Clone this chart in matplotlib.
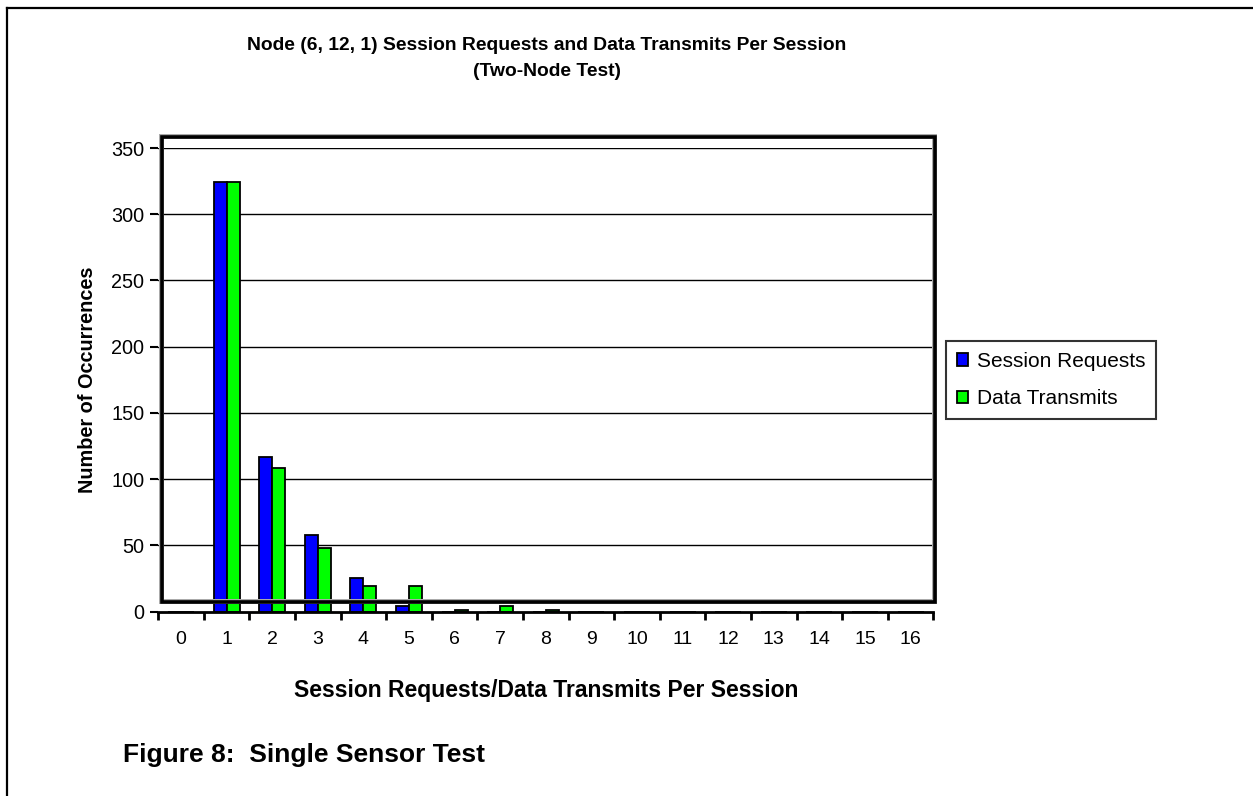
import matplotlib
matplotlib.use("Agg")
import matplotlib.pyplot as plt
import numpy as np
from matplotlib.patches import Rectangle
from matplotlib.lines import Line2D

plt.rcParams['font.family'] = ['Liberation Sans', 'DejaVu Sans']

categories = list(range(17))
session_requests = [0, 324, 117, 58, 25, 4, 0, 0, 0, 0, 0, 0, 0, 0, 0, 0, 0]
data_transmits = [0, 324, 108, 48, 19, 19, 1, 4, 1, 0, 0, 0, 0, 0, 0, 0, 0]
y_ticks = [0, 50, 100, 150, 200, 250, 300, 350]

W, H = 1253, 796
fig = plt.figure(figsize=(W / 100, H / 100), dpi=100)
fig.patch.set_facecolor('white')

# outer border (left and top edges)
fig.add_artist(Line2D([7 / W, 7 / W], [0, 1 - 8 / H], transform=fig.transFigure,
                      color='black', lw=1.6))
fig.add_artist(Line2D([7 / W, 1], [1 - 8 / H, 1 - 8 / H], transform=fig.transFigure,
                      color='black', lw=1.6))

ax_left, ax_right = 158.2, 933.4
ax_bottom, ax_top = 611.5, 148.0
ax = fig.add_axes([ax_left / W, 1 - ax_bottom / H, (ax_right - ax_left) / W,
                   (ax_bottom - ax_top) / H])
ax.set_facecolor('none')

x = np.arange(len(categories))
bw = 0.285
ax.bar(x - bw / 2, session_requests, bw, color='#0000ff', edgecolor='black',
       linewidth=1.3, label='Session Requests', zorder=3)
ax.bar(x + bw / 2, data_transmits, bw, color='#00ff00', edgecolor='black',
       linewidth=1.3, label='Data Transmits', zorder=3)

ax.set_xlim(-0.5, 16.5)
ax.set_ylim(0, 350)
for v in y_ticks[1:]:
    ax.axhline(v, color='black', lw=1.0, zorder=1)

for s in ['top', 'right']:
    ax.spines[s].set_visible(False)
ax.spines['left'].set_visible(False)
ax.spines['bottom'].set_linewidth(2.0)
ax.spines['bottom'].set_zorder(4)

ax.set_yticks(y_ticks)
ax.set_yticklabels([str(v) for v in y_ticks], fontsize=14.3)
ax.tick_params(axis='y', length=6, width=1.5, pad=4)
ax.set_xticks(x)
ax.set_xticklabels([str(c) for c in categories], fontsize=14)
ax.tick_params(axis='x', length=0, pad=14)
ax.set_xticks(np.arange(-0.5, 17, 1), minor=True)
ax.tick_params(axis='x', which='minor', length=6, width=2.0)

ax.set_xlabel('Session Requests/Data Transmits Per Session', fontsize=16.5,
              fontweight='bold', labelpad=22)
ax.set_ylabel('Number of Occurrences', fontsize=14.3, fontweight='bold', labelpad=10)

# plot-area frame
fig.add_artist(Rectangle((161 / W, 1 - 601 / H), (934 - 161) / W, (601 - 136) / H,
                         transform=fig.transFigure, fill=False, edgecolor='#aaaaaa',
                         lw=3.6, zorder=5))
fig.add_artist(Rectangle((162 / W, 1 - 601.5 / H), (934.5 - 162) / W, (601.5 - 137) / H,
                         transform=fig.transFigure, fill=False, edgecolor='black',
                         lw=2.6, zorder=6))

fig.text(547 / W, 1 - 45 / H, 'Node (6, 12, 1) Session Requests and Data Transmits Per Session',
         ha='center', va='center', fontsize=13.85, fontweight='bold')
fig.text(547 / W, 1 - 71 / H, '(Two-Node Test)', ha='center', va='center',
         fontsize=13.85, fontweight='bold')

leg = fig.legend(loc='center', bbox_to_anchor=(1051 / W, 1 - 380 / H), fontsize=15,
                 frameon=True, fancybox=False, edgecolor='black', handlelength=0.55,
                 handleheight=0.55, handletextpad=0.4, borderpad=0.5, labelspacing=0.9)
leg.get_frame().set_linewidth(1.5)

fig.text(123 / W, 1 - 755 / H, 'Figure 8:  Single Sensor Test', ha='left', va='center',
         fontsize=19, fontweight='bold')

fig.savefig('out.png', dpi=100, facecolor='white')
